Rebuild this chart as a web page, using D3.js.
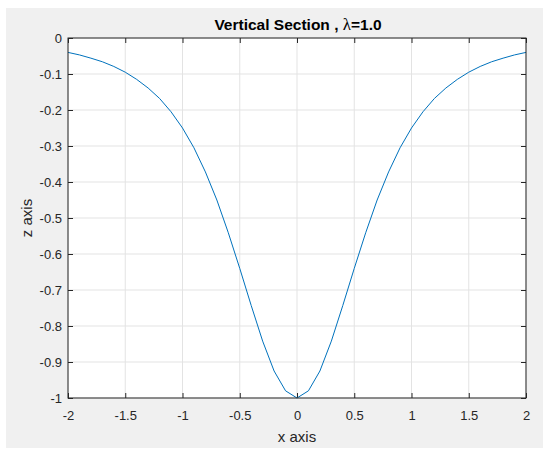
<!DOCTYPE html>
<html>
<head>
<meta charset="utf-8">
<script src="https://cdn.jsdelivr.net/npm/d3@7"></script>
<style>
  body { margin: 0; background: #fff; }
  svg { display: block; font-family: "Liberation Sans", Arial, sans-serif; }
</style>
</head>
<body>
<div id="chart"></div>
<script>
// curve samples (step 0.1)
let xValues = [-2.0, -1.9, -1.8, -1.7, -1.6, -1.5, -1.4, -1.3, -1.2, -1.1,
    -1.0, -0.9, -0.8, -0.7, -0.6, -0.5, -0.4, -0.3, -0.2, -0.1,
    0.0, 0.1, 0.2, 0.3, 0.4, 0.5, 0.6, 0.7, 0.8, 0.9,
    1.0, 1.1, 1.2, 1.3, 1.4, 1.5, 1.6, 1.7, 1.8, 1.9, 2.0];
let zValues = [-0.040, -0.047, -0.056, -0.066, -0.079, -0.095, -0.115, -0.139, -0.168, -0.205,
    -0.250, -0.305, -0.372, -0.450, -0.541, -0.640, -0.743, -0.842, -0.925, -0.980,
    -1.000, -0.980, -0.925, -0.842, -0.743, -0.640, -0.541, -0.450, -0.372, -0.305,
    -0.250, -0.205, -0.168, -0.139, -0.115, -0.095, -0.079, -0.066, -0.056, -0.047, -0.040];

let xTicks = [-2, -1.5, -1, -0.5, 0, 0.5, 1, 1.5, 2];
let zTicks = [0, -0.1, -0.2, -0.3, -0.4, -0.5, -0.6, -0.7, -0.8, -0.9, -1];

let svgWidth = 550;
let svgHeight = 455;

let margin = { top: 38, right: 24, bottom: 57, left: 68 };
let width = 526 - margin.left;
let height = 398 - margin.top;

let svg = d3.select("#chart")
    .append("svg")
    .attr("width", svgWidth)
    .attr("height", svgHeight);

// figure background
svg.append("rect")
    .attr("x", 6).attr("y", 8)
    .attr("width", 537).attr("height", 440)
    .attr("fill", "#f0f0f0");

let chartGroup = svg.append("g")
    .attr("transform", `translate(${margin.left}, ${margin.top})`);

chartGroup.append("rect")
    .attr("width", width)
    .attr("height", height)
    .attr("fill", "#fff");

let xScale = d3.scaleLinear().domain([-2, 2]).range([0, width]);
let yScale = d3.scaleLinear().domain([-1, 0]).range([height, 0]);

// grid
chartGroup.append("g").selectAll("line")
    .data(xTicks)
    .enter().append("line")
    .attr("x1", d => xScale(d)).attr("x2", d => xScale(d))
    .attr("y1", 0).attr("y2", height)
    .attr("stroke", "#e3e3e3");

chartGroup.append("g").selectAll("line")
    .data(zTicks)
    .enter().append("line")
    .attr("x1", 0).attr("x2", width)
    .attr("y1", d => yScale(d)).attr("y2", d => yScale(d))
    .attr("stroke", "#e3e3e3");

// axes, ticks inward
let fmt = d => String(d);
let bottomAxis = d3.axisBottom(xScale).tickValues(xTicks).tickFormat(fmt).tickSizeInner(-5).tickSizeOuter(0).tickPadding(13);
let leftAxis = d3.axisLeft(yScale).tickValues(zTicks).tickFormat(fmt).tickSizeInner(-5).tickSizeOuter(0).tickPadding(6);
let topAxis = d3.axisTop(xScale).tickValues(xTicks).tickFormat("").tickSizeInner(-5).tickSizeOuter(0);
let rightAxis = d3.axisRight(yScale).tickValues(zTicks).tickFormat("").tickSizeInner(-5).tickSizeOuter(0);

let axes = [
    chartGroup.append("g").attr("transform", `translate(0, ${height})`).call(bottomAxis),
    chartGroup.append("g").call(leftAxis),
    chartGroup.append("g").call(topAxis),
    chartGroup.append("g").attr("transform", `translate(${width}, 0)`).call(rightAxis)
];
axes.forEach(function (a) {
    a.select(".domain").remove();
    a.selectAll("line").attr("stroke", "#262626");
    a.selectAll("text")
        .attr("fill", "#262626")
        .style("font-size", "13px")
        .style("font-family", "Liberation Sans, Arial, sans-serif");
});

// the curve
let points = xValues.map((x, i) => [x, zValues[i]]);
let line = d3.line()
    .x(d => xScale(d[0]))
    .y(d => yScale(d[1]));

chartGroup.append("path")
    .datum(points)
    .attr("d", line)
    .attr("fill", "none")
    .attr("stroke", "#0072bd")
    .attr("stroke-width", 1);

// box
chartGroup.append("rect")
    .attr("width", width)
    .attr("height", height)
    .attr("fill", "none")
    .attr("stroke", "#262626")
    .attr("stroke-width", 1);

// labels
let title = svg.append("text")
    .attr("x", 298)
    .attr("y", 30)
    .attr("text-anchor", "middle")
    .attr("fill", "#000")
    .style("font-size", "15.5px")
    .style("font-weight", "bold");
title.append("tspan").text("Vertical Section , ");
title.append("tspan")
    .style("font-family", "Liberation Serif, serif")
    .style("font-weight", "normal")
    .style("font-size", "17px")
    .text("λ");
title.append("tspan").text("=1.0");

svg.append("text")
    .attr("x", 297)
    .attr("y", 442)
    .attr("text-anchor", "middle")
    .attr("fill", "#262626")
    .style("font-size", "15px")
    .text("x axis");

svg.append("text")
    .attr("transform", `translate(32, ${margin.top + height / 2}) rotate(-90)`)
    .attr("text-anchor", "middle")
    .attr("fill", "#262626")
    .style("font-size", "15px")
    .text("z axis");
</script>
</body>
</html>
